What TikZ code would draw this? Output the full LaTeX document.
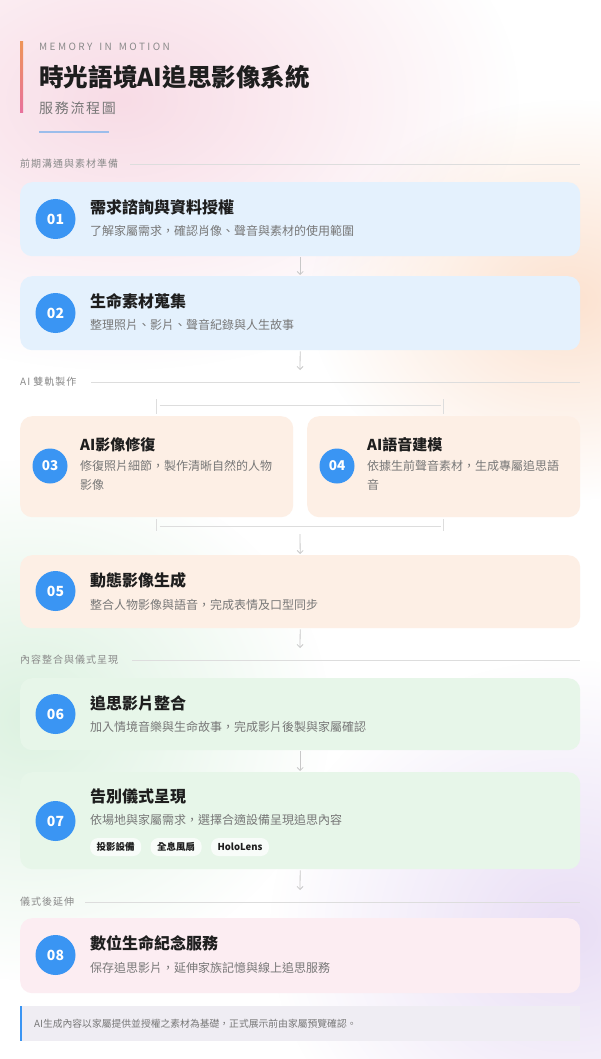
\documentclass[tikz,border=0pt]{standalone}
\usepackage{fontspec}
\setmainfont{Noto Sans CJK TC}
\usetikzlibrary{arrows.meta,fadings,calc}
\definecolor{blobpink}{HTML}{F8DCE6}
\definecolor{blobpeach}{HTML}{FCE2D0}
\definecolor{blobgreen}{HTML}{DDF2E1}
\definecolor{bloblav}{HTML}{E9DEF5}
\definecolor{cardblue}{HTML}{E4F1FD}
\definecolor{cardpeach}{HTML}{FDEFE5}
\definecolor{cardgreen}{HTML}{E7F6E9}
\definecolor{cardpink}{HTML}{FCEDF2}
\definecolor{footc}{HTML}{EFEDF3}
\definecolor{numblue}{HTML}{3A95F3}
\definecolor{titlec}{HTML}{1E1E1E}
\definecolor{descc}{HTML}{777777}
\definecolor{secc}{HTML}{8A8A8A}
\definecolor{linec}{HTML}{DDDDDD}
\definecolor{arrc}{HTML}{C8C8C8}
\definecolor{barorange}{HTML}{EE9458}
\definecolor{barpink}{HTML}{E8719D}
\definecolor{ulblue}{HTML}{9CBDEB}
\definecolor{footbar}{HTML}{3A95F3}
\tikzfading[name=blobfade, inner color=transparent!0, outer color=transparent!100]
\begin{document}
\begin{tikzpicture}[x=1pt,y=-1pt,
  card/.style={rounded corners=12pt, minimum width=560pt, anchor=north west, inner sep=0pt},
  halfcard/.style={rounded corners=12pt, minimum width=273pt, minimum height=101pt, anchor=north west, inner sep=0pt},
  num/.style={circle, fill=numblue, text=white, minimum size=40pt, inner sep=0pt, font=\fontsize{14}{14}\selectfont\bfseries},
  snum/.style={num, minimum size=35pt, font=\fontsize{13.5}{14}\selectfont\bfseries},
  ttl/.style={anchor=west, inner sep=0pt, text=titlec, font=\fontsize{16}{16}\selectfont\bfseries},
  sttl/.style={ttl, font=\fontsize{15}{15}\selectfont\bfseries},
  dsc/.style={anchor=west, inner sep=0pt, text=descc, font=\fontsize{12}{12}\selectfont},
  mdsc/.style={anchor=north west, inner sep=0pt, text=descc, align=left, font=\fontsize{12}{19.5}\selectfont},
  sec/.style={anchor=west, inner sep=0pt, text=secc, font=\fontsize{10}{10}\selectfont\addfontfeature{LetterSpace=10}},
  secline/.style={draw=linec, line width=0.7pt},
  conn/.style={draw=linec, line width=0.8pt},
  arr/.style={draw=arrc, line width=0.8pt, shorten <=1pt, shorten >=1pt, -{Straight Barb[length=3pt,width=6pt]}},
  tag/.style={rounded corners=8pt, fill=white, fill opacity=0.75, text opacity=1, text=titlec, minimum height=18pt, inner xsep=6.5pt, inner ysep=0pt, anchor=west, font=\fontsize{9.5}{10}\selectfont\bfseries},
]
\useasboundingbox (0,0) rectangle (600,1059);
\fill[white] (0,0) rectangle (600,1059);
% background blobs
\fill[blobpink, path fading=blobfade] (120,100) ellipse [x radius=400pt, y radius=270pt];
\fill[blobpeach, path fading=blobfade] (570,300) ellipse [x radius=260pt, y radius=200pt];
\fill[blobgreen, path fading=blobfade] (30,720) ellipse [x radius=300pt, y radius=260pt];
\fill[bloblav, path fading=blobfade] (570,930) ellipse [x radius=300pt, y radius=270pt];

% header
\shade[top color=barorange, bottom color=barpink] (20,42) rectangle (23,113);
\node[anchor=west, inner sep=0pt, text=secc, font=\fontsize{10}{10}\selectfont\addfontfeature{LetterSpace=24}] (kicker) at (39,47) {MEMORY\hspace{7pt}IN\hspace{7pt}MOTION};
\node[anchor=west, inner sep=0pt, text=titlec, font=\fontsize{24.6}{25}\selectfont\bfseries] (title) at (39,77) {時光語境AI追思影像系統};
\node[anchor=west, inner sep=0pt, text=descc, font=\fontsize{14}{14}\selectfont\addfontfeature{LetterSpace=12}] (subtitle) at (39,108) {服務流程圖};
\draw[ulblue, line width=1.6pt] (39,132) -- (109,132);

% section 1
\node[sec] (s1) at (20,164) {前期溝通與素材準備};
\draw[secline] (130,164) -- (580,164);

\node[card, fill=cardblue, minimum height=74pt] (c1) at (20,182) {};
\node[num] (n1) at (55.5,219) {01};
\node[ttl] (t1) at (90,207) {需求諮詢與資料授權};
\node[dsc] (d1) at (90,231) {了解家屬需求，確認肖像、聲音與素材的使用範圍};

\node[card, fill=cardblue, minimum height=74pt] (c2) at (20,276) {};
\node[num] (n2) at (55.5,313) {02};
\node[ttl] (t2) at (90,301) {生命素材蒐集};
\node[dsc] (d2) at (90,325) {整理照片、影片、聲音紀錄與人生故事};

\draw[arr] (c1.south) -- (c2.north);
\coordinate (e2) at (300,371);
\draw[arr] (c2.south) -- (e2);

% section 2
\node[sec] (s2) at (20,382) {AI 雙軌製作};
\draw[secline] (91,382) -- (580,382);

\node[halfcard, fill=cardpeach] (c3) at (20,416) {};
\node[snum] (n3) at (50,466) {03};
\node[sttl] (t3) at (80,445) {AI影像修復};
\node[mdsc] (d3) at (80,460) {修復照片細節，製作清晰自然的人物\\影像};

\node[halfcard, fill=cardpeach] (c4) at (307,416) {};
\node[snum] (n4) at (337,466) {04};
\node[sttl] (t4) at (367,445) {AI語音建模};
\node[mdsc] (d4) at (367,460) {依據生前聲音素材，生成專屬追思語\\音};

% split connector
\coordinate (sa) at ($(c3.north)+(0,-17)$);
\coordinate (sb) at ($(c4.north)+(0,-17)$);
\draw[conn] (sa) -- ($(c3.north)+(0,-2)$);
\draw[conn] (sb) -- ($(c4.north)+(0,-2)$);
\draw[conn] ($(c3.north)+(3,-11)$) -- ($(c4.north)+(-3,-11)$);
% merge connector
\coordinate (ma) at ($(c3.south)+(0,14)$);
\coordinate (mb) at ($(c4.south)+(0,14)$);
\draw[conn] ($(c3.south)+(0,2)$) -- (ma);
\draw[conn] ($(c4.south)+(0,2)$) -- (mb);
\draw[conn] ($(c3.south)+(3,9)$) -- ($(c4.south)+(-3,9)$);

\coordinate (b5) at (300,533);
\node[card, fill=cardpeach, minimum height=73pt] (c5) at (20,555) {};
\node[num] (n5) at (55.5,591) {05};
\node[ttl] (t5) at (90,580) {動態影像生成};
\node[dsc] (d5) at (90,605) {整合人物影像與語音，完成表情及口型同步};
\draw[arr] (b5) -- (c5.north);
\coordinate (e5) at (300,649);
\draw[arr] (c5.south) -- (e5);

% section 3
\node[sec] (s3) at (20,660) {內容整合與儀式呈現};
\draw[secline] (132,660) -- (580,660);

\node[card, fill=cardgreen, minimum height=72pt] (c6) at (20,678) {};
\node[num] (n6) at (55.5,714) {06};
\node[ttl] (t6) at (90,703) {追思影片整合};
\node[dsc] (d6) at (90,727) {加入情境音樂與生命故事，完成影片後製與家屬確認};

\node[card, fill=cardgreen, minimum height=97pt] (c7) at (20,772) {};
\node[num] (n7) at (55.5,821) {07};
\node[ttl] (t7) at (90,796) {告別儀式呈現};
\node[dsc] (d7) at (90,820) {依場地與家屬需求，選擇合適設備呈現追思內容};
\node[tag] (g1) at (90,847) {投影設備};
\node[tag] (g2) at ($(g1.east)+(9,0)$) {全息風扇};
\node[tag] (g3) at ($(g2.east)+(9,0)$) {HoloLens};

\draw[arr] (c6.south) -- (c7.north);
\coordinate (e7) at (300,891);
\draw[arr] (c7.south) -- (e7);

% section 4
\node[sec] (s4) at (20,902) {儀式後延伸};
\draw[secline] (85,902) -- (580,902);

\node[card, fill=cardpink, minimum height=75pt] (c8) at (20,918) {};
\node[num] (n8) at (55.5,955) {08};
\node[ttl] (t8) at (90,943) {數位生命紀念服務};
\node[dsc] (d8) at (90,968) {保存追思影片，延伸家族記憶與線上追思服務};

% footer
\fill[footc] (20,1006) rectangle (580,1041);
\fill[footbar] (20,1006) rectangle (22,1041);
\node[anchor=west, inner sep=0pt, text=descc, font=\fontsize{9.8}{10}\selectfont] (note) at (34,1023.5) {AI生成內容以家屬提供並授權之素材為基礎，正式展示前由家屬預覽確認。};
\end{tikzpicture}
\end{document}
